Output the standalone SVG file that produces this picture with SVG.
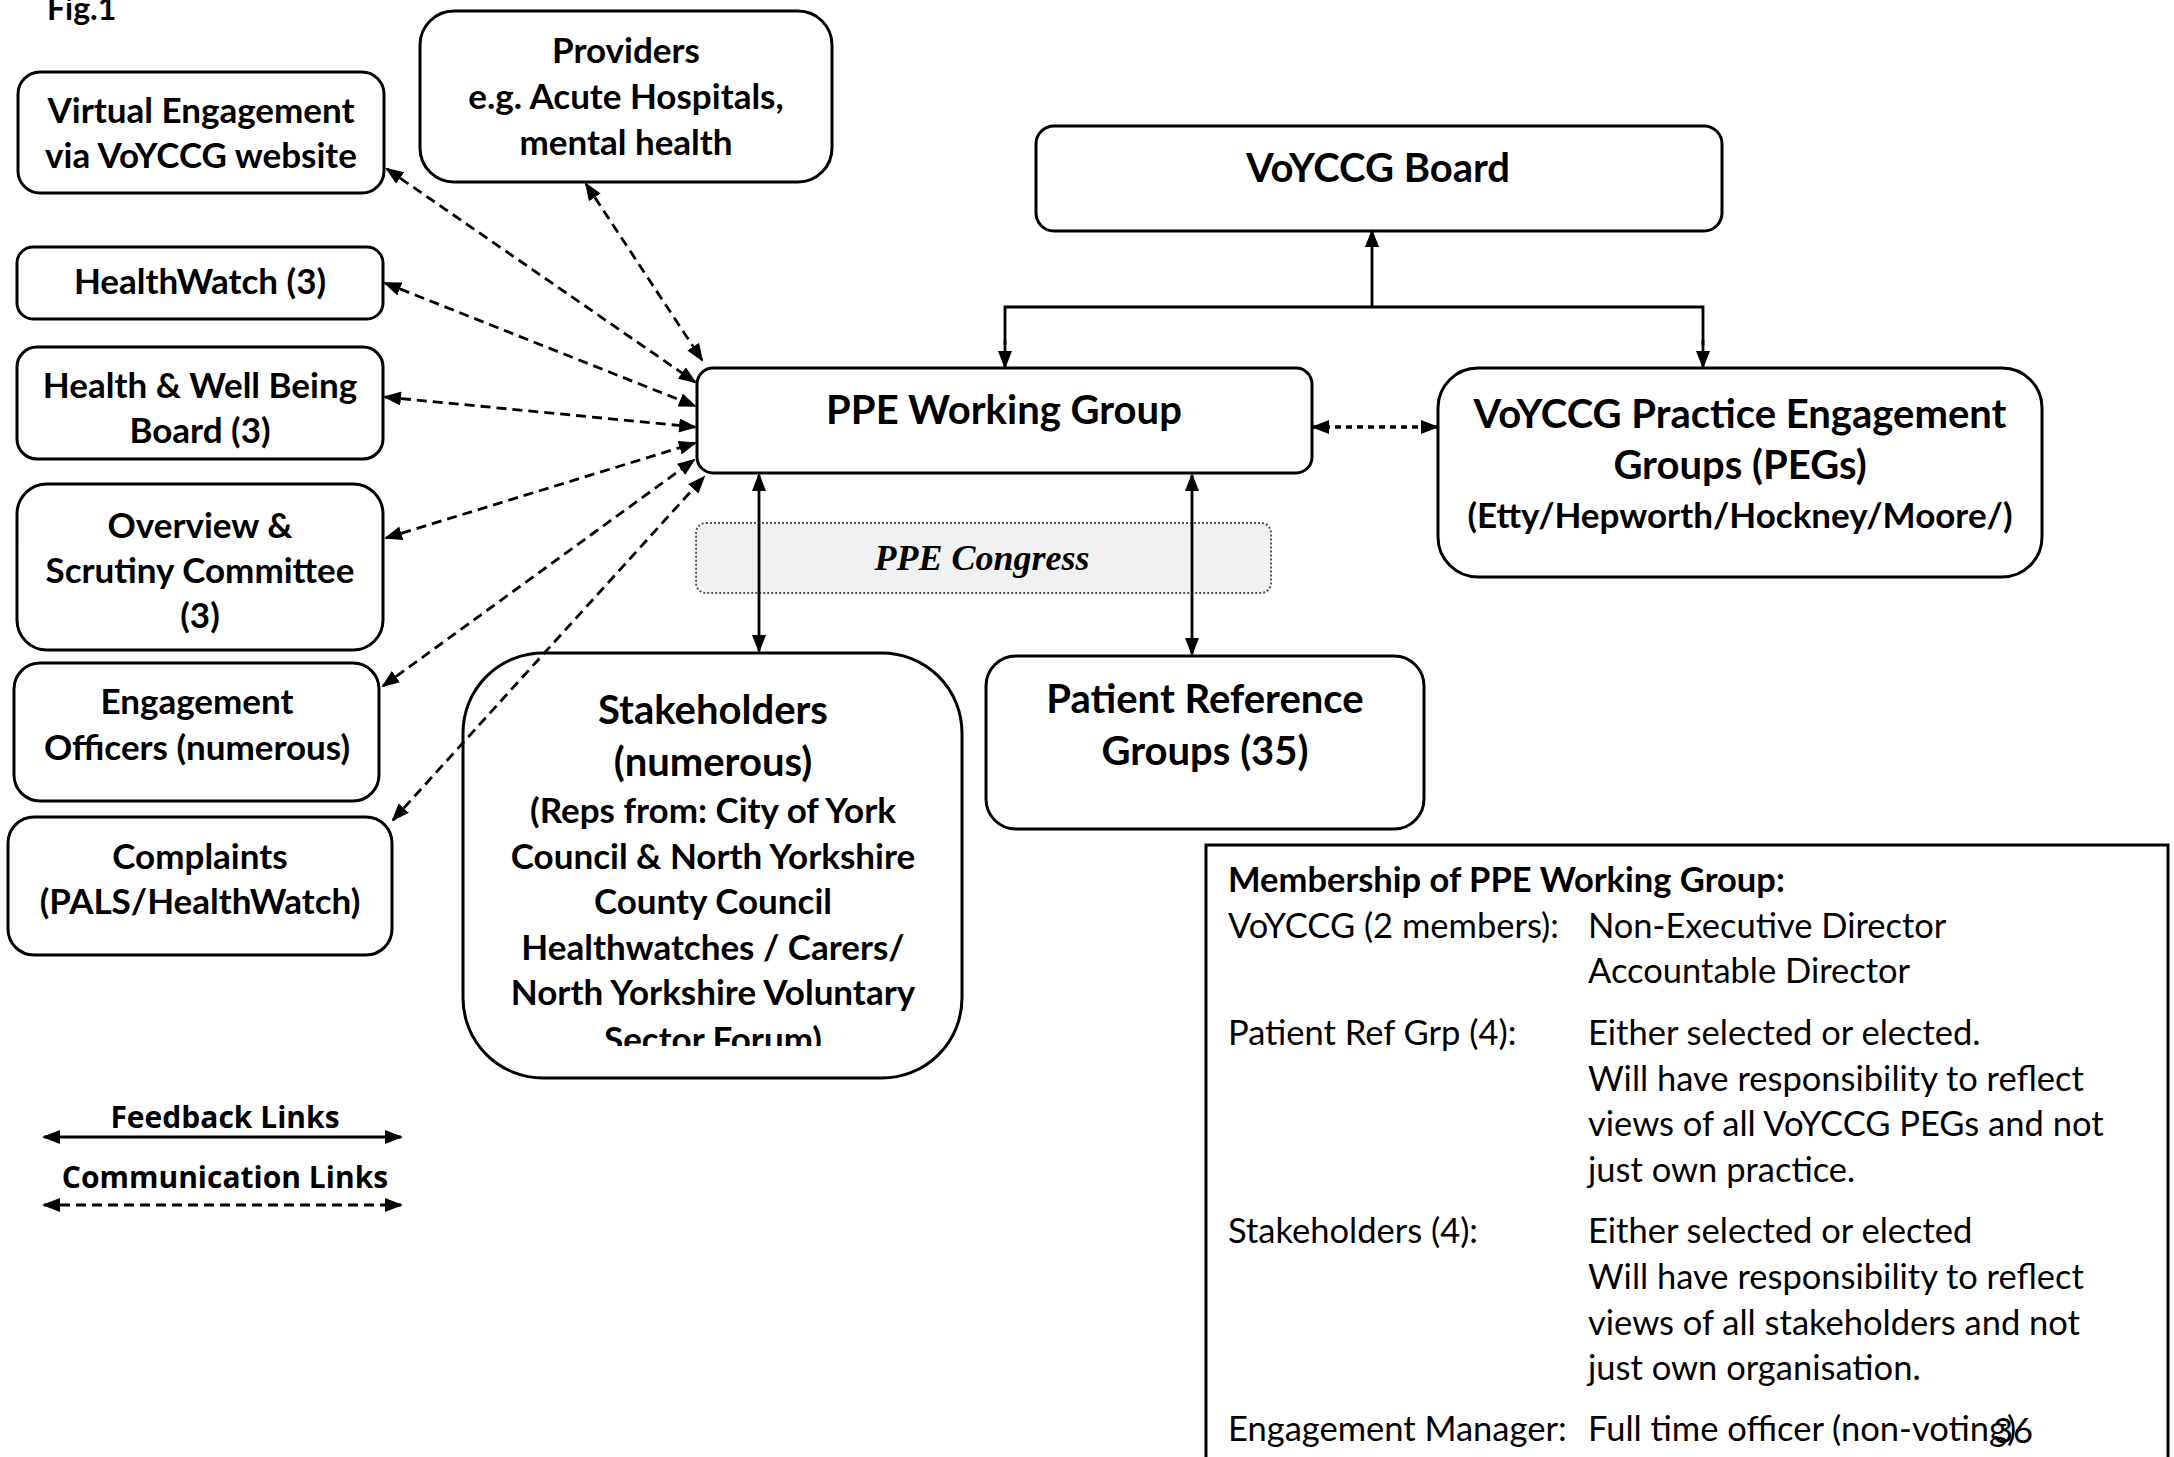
<svg xmlns="http://www.w3.org/2000/svg" width="2174" height="1457" viewBox="0 0 2174 1457">
<style>
.box{fill:#fff;stroke:#000;stroke-width:3}
.t{font-family:Lato,"Liberation Sans",sans-serif;font-weight:700;font-size:35px;text-anchor:middle;fill:#000}
.tl{font-size:40px}
.r{font-family:Lato,"Liberation Sans",sans-serif;font-weight:400;font-size:34.5px;fill:#000}
.rb{font-weight:700}
.lg{font-family:"Open Sans","Liberation Sans",sans-serif;font-weight:700;font-size:30px;text-anchor:middle}
.ln{stroke:#000;stroke-width:2.8;fill:none}
.dash{stroke-dasharray:10 6}
.dot{stroke-dasharray:6 5;stroke-width:3.5}
</style>
<defs>
<marker id="ah" viewBox="0 0 18 14" refX="16" refY="7" markerWidth="18" markerHeight="14" markerUnits="userSpaceOnUse" orient="auto-start-reverse"><path d="M0,0 L18,7 L0,14 z" fill="#000"/></marker>
<clipPath id="clipSector"><rect x="460" y="600" width="520" height="446"/></clipPath>
</defs>
<rect width="2174" height="1457" fill="#fff"/>
<text x="47" y="20" class="t" style="text-anchor:start;font-size:32px">Fig.1</text>

<g id="providers"><rect class="box" x="420" y="11" width="412" height="171" rx="34"/>
<text class="t" x="626" y="63">Providers</text><text class="t" x="626" y="109">e.g. Acute Hospitals,</text><text class="t" x="626" y="155">mental health</text></g>

<g id="virtual"><rect class="box" x="18" y="72" width="366" height="121" rx="22"/>
<text class="t" x="201" y="123">Virtual Engagement</text><text class="t" x="201" y="168">via VoYCCG website</text></g>

<g id="healthwatch"><rect class="box" x="17" y="247" width="366" height="72" rx="16"/>
<text class="t" x="200" y="294">HealthWatch (3)</text></g>

<g id="hwb"><rect class="box" x="17" y="347" width="366" height="112" rx="20"/>
<text class="t" x="200" y="398">Health &amp; Well Being</text><text class="t" x="200" y="443">Board (3)</text></g>

<g id="overview"><rect class="box" x="17" y="484" width="366" height="166" rx="30"/>
<text class="t" x="200" y="538">Overview &amp;</text><text class="t" x="200" y="583">Scrutiny Committee</text><text class="t" x="200" y="628">(3)</text></g>

<g id="officers"><rect class="box" x="14" y="663" width="365" height="138" rx="26"/>
<text class="t" x="197" y="714">Engagement</text><text class="t" x="197" y="760">Officers (numerous)</text></g>

<g id="complaints"><rect class="box" x="8" y="817" width="384" height="138" rx="26"/>
<text class="t" x="200" y="869">Complaints</text><text class="t" x="200" y="914">(PALS/HealthWatch)</text></g>

<g id="board"><rect class="box" x="1036" y="126" width="686" height="105" rx="18"/>
<text class="t tl" x="1378" y="182">VoYCCG Board</text></g>

<g id="ppe"><rect class="box" x="697" y="368" width="615" height="105" rx="16"/>
<text class="t tl" x="1004" y="424">PPE Working Group</text></g>

<g id="pegs"><rect class="box" x="1438" y="368" width="604" height="209" rx="40"/>
<text class="t tl" x="1740" y="428">VoYCCG Practice Engagement</text><text class="t tl" x="1740" y="479">Groups (PEGs)</text><text class="t" x="1740" y="528">(Etty/Hepworth/Hockney/Moore/)</text></g>

<g id="congress"><rect x="696" y="523" width="575" height="70" rx="10" fill="#f1f1f1" stroke="#555" stroke-width="2" stroke-dasharray="2 2"/>
<text x="982" y="570" font-family="'Liberation Serif',serif" font-style="italic" font-weight="700" font-size="36" text-anchor="middle">PPE Congress</text></g>

<g id="stakeholders"><rect class="box" x="463" y="653" width="499" height="425" rx="80"/>
<text class="t tl" x="713" y="724">Stakeholders</text><text class="t tl" x="713" y="776">(numerous)</text>
<text class="t" x="713" y="823">(Reps from: City of York</text><text class="t" x="713" y="869">Council &amp; North Yorkshire</text><text class="t" x="713" y="914">County Council</text><text class="t" x="713" y="960">Healthwatches / Carers/</text><text class="t" x="713" y="1005">North Yorkshire Voluntary</text><text class="t" x="713" y="1052" clip-path="url(#clipSector)">Sector Forum)</text></g>

<g id="patientref"><rect class="box" x="986" y="656" width="438" height="173" rx="30"/>
<text class="t tl" x="1205" y="713">Patient Reference</text><text class="t tl" x="1205" y="765">Groups (35)</text></g>

<g id="membership"><rect x="1206" y="845" width="962" height="640" fill="#fff" stroke="#000" stroke-width="3"/>
<text class="r rb" x="1228" y="892">Membership of PPE Working Group:</text>
<text class="r" x="1228" y="938">VoYCCG (2 members):</text><text class="r" x="1588" y="938">Non-Executive Director</text>
<text class="r" x="1588" y="983">Accountable Director</text>
<text class="r" x="1228" y="1045">Patient Ref Grp (4):</text><text class="r" x="1588" y="1045">Either selected or elected.</text>
<text class="r" x="1588" y="1091">Will have responsibility to reflect</text>
<text class="r" x="1588" y="1136">views of all VoYCCG PEGs and not</text>
<text class="r" x="1588" y="1182">just own practice.</text>
<text class="r" x="1228" y="1243">Stakeholders (4):</text><text class="r" x="1588" y="1243">Either selected or elected</text>
<text class="r" x="1588" y="1289">Will have responsibility to reflect</text>
<text class="r" x="1588" y="1335">views of all stakeholders and not</text>
<text class="r" x="1588" y="1380">just own organisation.</text>
<text class="r" x="1228" y="1441">Engagement Manager:</text><text class="r" x="1588" y="1441">Full time officer (non-voting)</text>
<text class="r" x="1993" y="1443" font-size="30">36</text></g>

<g id="connectors">
<line class="ln dash" x1="586" y1="184" x2="702" y2="360" marker-start="url(#ah)" marker-end="url(#ah)"/>
<line class="ln dash" x1="387" y1="169" x2="695" y2="382" marker-start="url(#ah)" marker-end="url(#ah)"/>
<line class="ln dash" x1="385" y1="283" x2="695" y2="406" marker-start="url(#ah)" marker-end="url(#ah)"/>
<line class="ln dash" x1="385" y1="397" x2="695" y2="427" marker-start="url(#ah)" marker-end="url(#ah)"/>
<line class="ln dash" x1="386" y1="538" x2="695" y2="443" marker-start="url(#ah)" marker-end="url(#ah)"/>
<line class="ln dash" x1="383" y1="686" x2="694" y2="460" marker-start="url(#ah)" marker-end="url(#ah)"/>
<line class="ln dash" x1="393" y1="820" x2="704" y2="477" marker-start="url(#ah)" marker-end="url(#ah)"/>
<line class="ln" x1="1372" y1="307" x2="1372" y2="231" marker-end="url(#ah)"/>
<polyline class="ln" points="1005,345 1005,307 1703,307 1703,345"/>
<line class="ln" x1="1005" y1="340" x2="1005" y2="367" marker-end="url(#ah)"/>
<line class="ln" x1="1703" y1="340" x2="1703" y2="367" marker-end="url(#ah)"/>
<line class="ln dot" x1="1313" y1="427" x2="1437" y2="427" marker-start="url(#ah)" marker-end="url(#ah)"/>
<line class="ln" x1="759" y1="475" x2="759" y2="651" marker-start="url(#ah)" marker-end="url(#ah)"/>
<line class="ln" x1="1192" y1="475" x2="1192" y2="654" marker-start="url(#ah)" marker-end="url(#ah)"/>
</g>

<g id="legend">
<text class="lg" x="225" y="1128">Feedback Links</text>
<line class="ln" x1="44" y1="1137" x2="401" y2="1137" marker-start="url(#ah)" marker-end="url(#ah)"/>
<text class="lg" x="225" y="1188">Communication Links</text>
<line class="ln dash" x1="44" y1="1205" x2="401" y2="1205" marker-start="url(#ah)" marker-end="url(#ah)"/>
</g>
</svg>
